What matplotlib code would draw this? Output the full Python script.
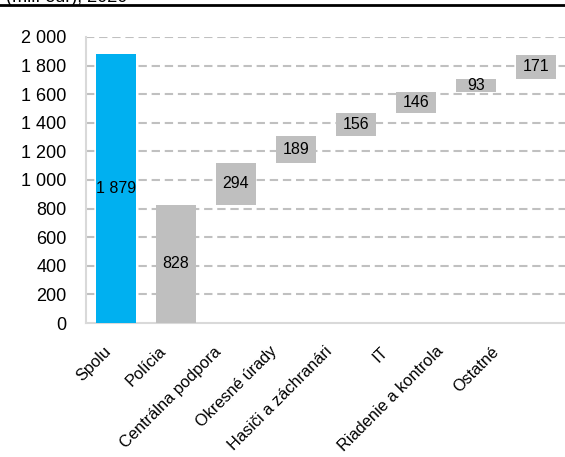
import matplotlib
matplotlib.use("Agg")
import matplotlib.pyplot as plt
from matplotlib.lines import Line2D

categories = ["Spolu", "Polícia", "Centrálna podpora", "Okresné úrady",
              "Hasiči a záchranári", "IT", "Riadenie a kontrola", "Ostatné"]
values = [1879, 828, 294, 189, 156, 146, 93, 171]
yticks = [0, 200, 400, 600, 800, 1000, 1200, 1400, 1600, 1800, 2000]

FONT = ["Liberation Sans", "DejaVu Sans"]
plt.rcParams["font.family"] = FONT

def fmt(v):
    return f"{v:,}".replace(",", " ")

# waterfall bases
bases = [0]
running = 0
for v in values[1:]:
    bases.append(running)
    running += v

fig = plt.figure(figsize=(5.65, 4.57), dpi=100)
ax = fig.add_axes([86/565, (457-323)/457, 480/565, 286/457])

colors = ["#00B0F0"] + ["#BFBFBF"] * (len(values) - 1)
x = list(range(len(categories)))
ax.bar(x, values, bottom=bases, width=0.667, color=colors, zorder=3)

for i, (b, v) in enumerate(zip(bases, values)):
    ax.text(i, b + v / 2, fmt(v), ha="center", va="center", fontsize=11.5,
            color="black", zorder=4)

ax.set_xlim(-0.5, len(categories) - 0.5)
ax.set_ylim(0, 2000)
ax.set_yticks(yticks)
ax.set_yticklabels([fmt(t) for t in yticks], fontsize=13)
# label anchors drift slightly left (as in the reference layout)
label_pos = [i - (13 + 4.6 * i) / 60 for i in x]
ax.set_xticks(label_pos)
ax.set_xticklabels(categories, rotation=45, ha="right", va="top",
                   rotation_mode="anchor", fontsize=11.8)
ax.tick_params(axis="both", length=0)
ax.tick_params(axis="y", pad=14)
ax.tick_params(axis="x", pad=15)

for yv in yticks[1:]:
    ax.axhline(yv, color="#C0C0C0", lw=1.5, ls=(0, (4, 2.3)), zorder=1)

for s in ["top", "right"]:
    ax.spines[s].set_visible(False)
for s in ["left", "bottom"]:
    ax.spines[s].set_color("#D9D9D9")
    ax.spines[s].set_linewidth(1.5)

# header line and clipped title (cut at the top edge as in the reference)
fig.add_artist(Line2D([0, 1], [1 - 5/457, 1 - 5/457], color="black", lw=2,
                      transform=fig.transFigure))
fig.text(0.01, 1 - 1.5/457, "(mil. eur), 2020", fontsize=13, va="baseline",
         ha="left")

fig.savefig("out.png", dpi=100)
